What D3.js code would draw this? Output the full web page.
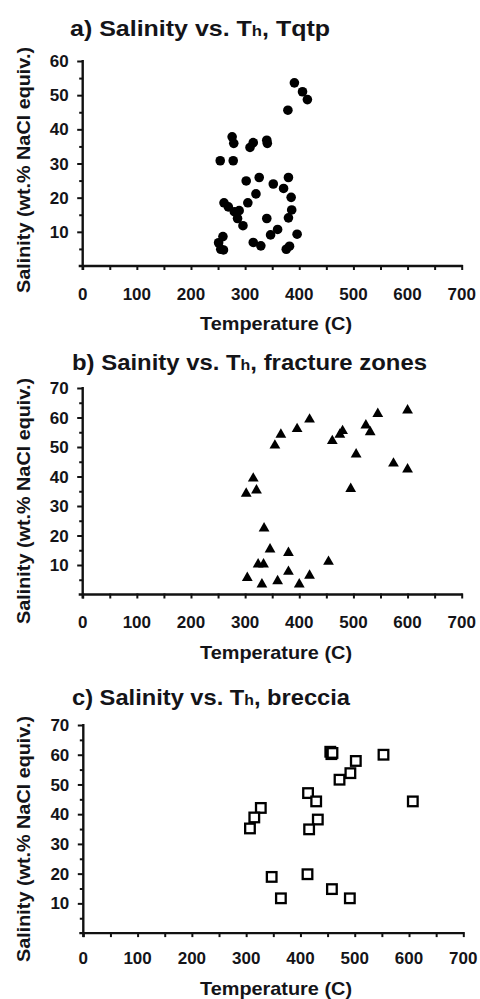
<!DOCTYPE html>
<html>
<head>
<meta charset="utf-8">
<script src="https://cdn.jsdelivr.net/npm/d3@7/dist/d3.min.js"></script>
<style>
  html, body { margin: 0; padding: 0; background: #fff; }
  svg { display: block; }
  text { font-family: "Liberation Sans", Arial, sans-serif; font-weight: bold; fill: #141418; }
</style>
</head>
<body>
<svg id="chart" width="480" height="999"></svg>
<script>
// ---- data ----
const xTickLabels = [0, 100, 200, 300, 400, 500, 600, 700];
const yTicksA = [10, 20, 30, 40, 50, 60];
const yTicksBC = [10, 20, 30, 40, 50, 60, 70];

// a) Tqtp (circles)
const tempA = [391, 406, 415, 379, 276, 279, 309, 315, 340, 341, 254, 278, 302, 326, 352, 371, 380, 385, 320, 305,
               261, 269, 280, 289, 286, 296, 340, 386, 380, 360, 347, 396, 259, 251, 255, 315, 329, 376, 382, 260];
const salA  = [53.6, 51.0, 48.7, 45.6, 37.8, 35.9, 34.7, 36.1, 36.8, 35.9, 30.8, 30.8, 24.9, 25.9, 24.0, 22.7, 25.9, 20.1, 21.1, 18.5,
               18.5, 17.3, 15.9, 16.2, 13.9, 11.8, 13.9, 16.4, 14.1, 10.7, 9.1, 9.3, 8.6, 6.8, 4.9, 6.9, 5.9, 4.9, 5.8, 4.7];

// b) fracture zones (triangles)
const tempB = [545, 600, 419, 396, 366, 355, 480, 475, 461, 523, 531, 505, 574, 600, 315, 302, 321, 495,
               335, 346, 380, 454, 324, 334, 304, 331, 360, 380, 400, 419];
const salB  = [61.6, 62.8, 59.7, 56.5, 54.6, 50.9, 55.8, 54.6, 52.4, 57.7, 55.4, 47.9, 44.8, 42.8, 39.7, 34.6, 35.7, 36.2,
               22.8, 15.7, 14.5, 11.5, 10.6, 10.6, 6.0, 3.8, 4.9, 8.1, 3.8, 6.8];

// c) breccia (squares)
const tempC = [455, 457, 459, 502, 553, 492, 472, 414, 429, 607, 327, 315, 307, 432, 416, 347, 413, 364, 458, 491];
const salC  = [61.0, 60.2, 60.6, 57.9, 60.0, 53.8, 51.6, 47.1, 44.3, 44.3, 42.1, 38.9, 35.2, 38.2, 34.9, 18.9, 19.8, 11.7, 14.8, 11.7];

const panels = [
  { title: ["a) Salinity vs. T", "h", ", Tqtp"], titleW: 260, temp: tempA, sal: salA, yMax: 60, yTicks: yTicksA, marker: "circle",
    left: 82.7, right: 461.7, bottom: 266, top: 61, titleX: 70, titleY: 36, tickLabelY: 299.5, xTitleY: 330, yTitleY: 170 },
  { title: ["b) Sainity vs. T", "h", ", fracture zones"], titleW: 355, temp: tempB, sal: salB, yMax: 70, yTicks: yTicksBC, marker: "triangle",
    left: 82.7, right: 461.7, bottom: 594.5, top: 388, titleX: 72, titleY: 370, tickLabelY: 627.5, xTitleY: 658.5, yTitleY: 501 },
  { title: ["c) Salinity vs. T", "h", ", breccia"], titleW: 278, temp: tempC, sal: salC, yMax: 70, yTicks: yTicksBC, marker: "square",
    left: 83.3, right: 463.3, bottom: 933.1, top: 725, titleX: 72, titleY: 705, tickLabelY: 964, xTitleY: 994.5, yTitleY: 839 }
];

const svg = d3.select("#chart");

panels.forEach(p => {
  const g = svg.append("g");
  const x = d3.scaleLinear().domain([0, 700]).range([p.left, p.right]);
  const y = d3.scaleLinear().domain([0, p.yMax]).range([p.bottom, p.top]);

  // title
  const t = g.append("text").attr("x", p.titleX).attr("y", p.titleY).style("font-size", "22.5px")
    .attr("textLength", p.titleW).attr("lengthAdjust", "spacingAndGlyphs");
  t.append("tspan").text(p.title[0]);
  t.append("tspan").style("font-size", "15px").text(p.title[1]);
  t.append("tspan").text(p.title[2]);

  // x axis
  const xMinor = d3.range(0, 701, 50);
  const xAxis = d3.axisBottom(x).tickValues(xMinor).tickSize(4).tickFormat("");
  const xa = g.append("g").attr("transform", `translate(0,${p.bottom})`).call(xAxis);
  xa.select(".domain").attr("stroke", "#111").attr("stroke-width", 2.4).attr("d", `M${p.left - 4},0H${p.right + 1}`);
  xa.selectAll(".tick line").attr("stroke", "#111").attr("stroke-width", 2).attr("y1", -1);
  g.selectAll(".xlab").data(xTickLabels).enter().append("text")
    .attr("x", d => x(d)).attr("y", p.tickLabelY).attr("text-anchor", "middle")
    .style("font-size", "17px").text(d => d);

  // y axis
  const yMinor = d3.range(5, p.yMax + 1, 5);
  const yAxis = d3.axisLeft(y).tickValues(yMinor).tickFormat("").tickSize(3);
  const ya = g.append("g").attr("transform", `translate(${p.left},0)`).call(yAxis);
  ya.select(".domain").attr("stroke", "#111").attr("stroke-width", 2.4).attr("d", `M0,${p.top - 1}V${p.bottom + 4}`);
  ya.selectAll(".tick line").attr("stroke", "#111").attr("stroke-width", 2)
    .attr("x2", d => p.yTicks.includes(d) ? -5.5 : -3.5);
  g.selectAll(".ylab").data(p.yTicks).enter().append("text")
    .attr("x", p.left - 14).attr("y", d => y(d)).attr("dy", "0.36em").attr("text-anchor", "end")
    .style("font-size", "17px").text(d => d);

  // axis titles
  g.append("text").attr("x", 200).attr("y", p.xTitleY)
    .attr("textLength", 152).attr("lengthAdjust", "spacingAndGlyphs")
    .style("font-size", "18.5px").text("Temperature (C)");
  g.append("text").attr("transform", `translate(30,${p.yTitleY}) rotate(-90)`).attr("x", -123)
    .attr("textLength", 246).attr("lengthAdjust", "spacingAndGlyphs")
    .style("font-size", "18px").text("Salinity (wt.% NaCl equiv.)");

  // markers
  const pts = p.temp.map((d, i) => ({ t: d, s: p.sal[i] }));
  if (p.marker === "circle") {
    g.selectAll(".pt").data(pts).enter().append("circle")
      .attr("cx", d => x(d.t)).attr("cy", d => y(d.s)).attr("r", 4.8).attr("fill", "#000");
  } else if (p.marker === "triangle") {
    g.selectAll(".pt").data(pts).enter().append("path")
      .attr("transform", d => `translate(${x(d.t)},${y(d.s)})`)
      .attr("d", "M0,-5.2L5.4,4.2L-5.4,4.2Z").attr("fill", "#000");
  } else {
    g.selectAll(".pt").data(pts).enter().append("rect")
      .attr("x", d => x(d.t) - 4.8).attr("y", d => y(d.s) - 4.8).attr("width", 9.6).attr("height", 9.6)
      .attr("fill", "#fff").attr("stroke", "#000").attr("stroke-width", 2.3);
  }
});
</script>
</body>
</html>
